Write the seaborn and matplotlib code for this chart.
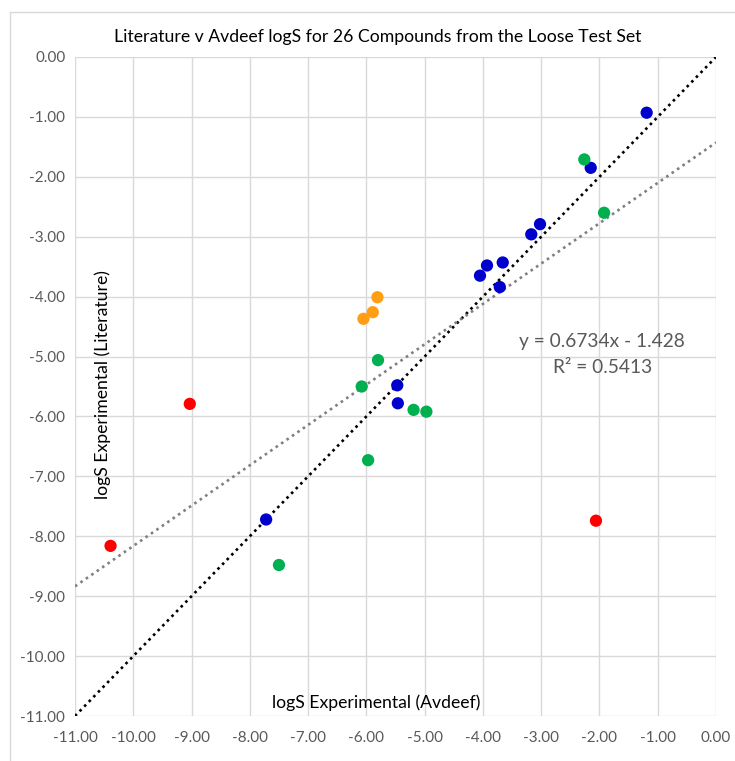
import matplotlib
matplotlib.use("Agg")
import matplotlib.pyplot as plt
import seaborn as sns
import pandas as pd
import numpy as np
from matplotlib.lines import Line2D

# ---- data ----
avdeef_blue = [-1.19, -2.15, -3.02, -3.17, -3.66, -3.93, -4.05, -3.71, -5.47, -5.46, -7.72]
lit_blue    = [-0.93, -1.85, -2.79, -2.96, -3.43, -3.48, -3.65, -3.84, -5.48, -5.78, -7.72]
avdeef_green = [-2.26, -1.92, -5.80, -6.08, -5.19, -4.97, -5.97, -7.50]
lit_green    = [-1.71, -2.60, -5.06, -5.50, -5.89, -5.92, -6.73, -8.48]
avdeef_orange = [-5.81, -5.89, -6.05]
lit_orange    = [-4.01, -4.26, -4.37]
avdeef_red = [-9.03, -10.39, -2.06]
lit_red    = [-5.79, -8.16, -7.74]

slope = 0.6734
intercept = -1.428
r2 = 0.5413

ticks = [-11, -10, -9, -8, -7, -6, -5, -4, -3, -2, -1, 0]

title = "Literature v Avdeef logS for 26 Compounds from the Loose Test Set"
xlabel = "logS Experimental (Avdeef)"
ylabel = "logS Experimental (Literature)"

groups = ["blue", "green", "orange", "red"]
palette = {"blue": "#0000CC", "green": "#00B050", "orange": "#FF9E12", "red": "#FF0000"}

df = pd.concat([
    pd.DataFrame({"avdeef": avdeef_blue, "lit": lit_blue, "group": "blue"}),
    pd.DataFrame({"avdeef": avdeef_green, "lit": lit_green, "group": "green"}),
    pd.DataFrame({"avdeef": avdeef_orange, "lit": lit_orange, "group": "orange"}),
    pd.DataFrame({"avdeef": avdeef_red, "lit": lit_red, "group": "red"}),
], ignore_index=True)

sns.set_style("white")
plt.rcParams['font.family'] = ['Lato', 'DejaVu Sans']

W, H = 735, 761
fig = plt.figure(figsize=(W / 100, H / 100), dpi=100)
ax = fig.add_axes([75 / W, 1 - 716 / H, (716 - 75) / W, (716 - 57) / H])

# grid
for t in ticks:
    ax.axhline(t, color="#D9D9D9", lw=1.0, zorder=0)
    ax.axvline(t, color="#D9D9D9", lw=1.0, zorder=0)

# y = x line
lim = np.array([ticks[0], ticks[-1]], dtype=float)
ax.plot(lim, lim, color="black", lw=1.9, linestyle=(0, (1, 1.5)), zorder=2)
# trendline
ax.plot(lim, slope * lim + intercept, color="#808080", lw=1.9, linestyle=(0, (1, 1.5)), zorder=2)

sns.scatterplot(data=df, x="avdeef", y="lit", hue="group", hue_order=groups,
                palette=palette, s=78, edgecolor="none", legend=False, ax=ax, zorder=3)

ax.set_xlim(-11, 0)
ax.set_ylim(-11, 0)
ax.set_xticks(ticks)
ax.set_yticks(ticks)
ax.set_xticklabels([f"{t:.2f}" for t in ticks])
ax.set_yticklabels([f"{t:.2f}" for t in ticks])
ax.tick_params(axis="both", length=0, labelsize=11, colors="#595959")
ax.tick_params(axis="x", pad=11)
ax.tick_params(axis="y", pad=7)
for sp in ax.spines.values():
    sp.set_visible(False)
ax.set_xlabel("")
ax.set_ylabel("")

def px(x, y):
    return x / W, 1 - y / H

fig.text(*px(378, 37), title, ha="center", va="center", fontsize=12.7, color="black")
fig.text(*px(103, 385), ylabel, ha="center", va="center", rotation=90, fontsize=12.7, color="black")
fig.text(*px(376, 703), xlabel, ha="center", va="center", fontsize=12.7, color="black")
fig.text(*px(602, 341), f"y = {slope:.4f}x - {abs(intercept):.3f}",
         ha="center", va="center", fontsize=13.8, color="#595959")
fig.text(*px(603, 367), f"R² = {r2:.4f}",
         ha="center", va="center", fontsize=13.8, color="#595959")

# outer chart frame (partially cropped in reference)
fig.add_artist(Line2D([10 / W, 1], [1 - 12 / H, 1 - 12 / H], transform=fig.transFigure, color="#D9D9D9", lw=1))
fig.add_artist(Line2D([10 / W, 10 / W], [0, 1 - 12 / H], transform=fig.transFigure, color="#D9D9D9", lw=1))

fig.savefig("out.png", dpi=100)
